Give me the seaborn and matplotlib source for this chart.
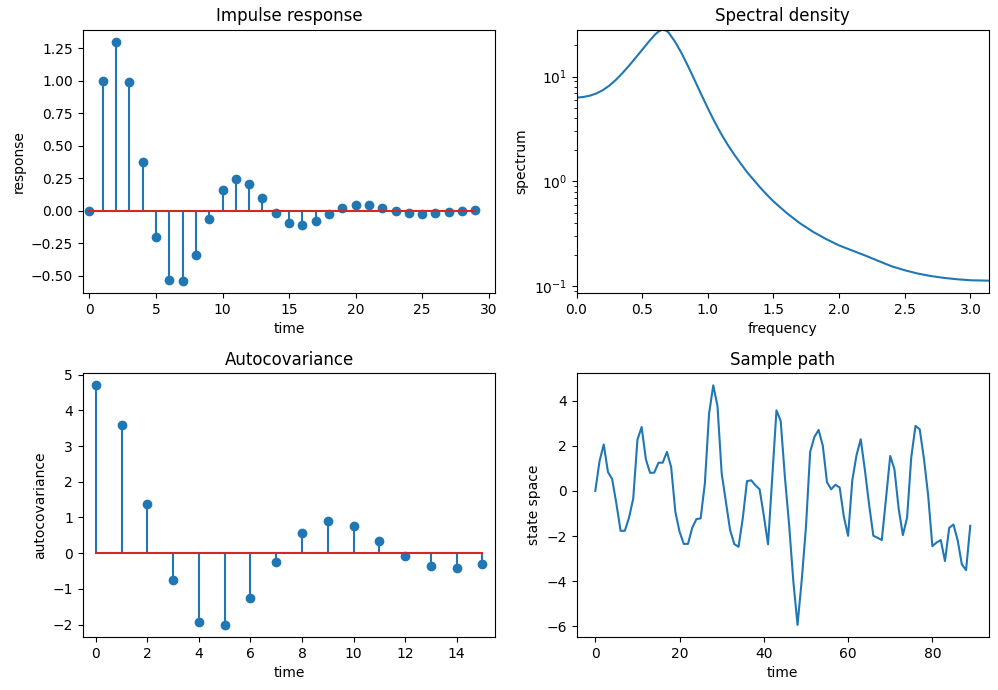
import matplotlib
matplotlib.use('Agg')
import matplotlib.pyplot as plt
import numpy as np
import seaborn as sns

# impulse response
impulse = [0.0, 1.0, 1.30, 0.99, 0.376, -0.204, -0.528, -0.541, -0.343, -0.064,
           0.16, 0.245, 0.206, 0.098, -0.018, -0.095, -0.111, -0.08, -0.023, 0.023,
           0.046, 0.046, 0.023, -0.005, -0.018, -0.023, -0.018, -0.008, -0.003, 0.008]

# spectral density
freq = [0.0, 0.05, 0.1, 0.15, 0.2, 0.25, 0.3, 0.35, 0.4, 0.45, 0.5, 0.55, 0.6, 0.62,
        0.65, 0.68, 0.7, 0.75, 0.8, 0.85, 0.9, 0.95, 1.0, 1.05, 1.1, 1.15, 1.2, 1.25,
        1.3, 1.35, 1.4, 1.45, 1.5, 1.6, 1.7, 1.8, 1.9, 2.0, 2.1, 2.2, 2.3, 2.4,
        2.5, 2.6, 2.7, 2.8, 2.9, 3.0, 3.1416]
spectrum = [6.3, 6.38, 6.56, 6.89, 7.41, 8.2, 9.31, 10.8, 12.7, 15.1, 18.0, 21.5, 25.3, 26.6,
            28.0, 27.5, 26.4, 21.5, 16.7, 12.5, 9.2, 6.75, 4.98, 3.73, 2.86, 2.25, 1.81, 1.48,
            1.22, 1.03, 0.87, 0.745, 0.644, 0.50, 0.40, 0.331, 0.282, 0.245, 0.219, 0.196, 0.174, 0.155,
            0.142, 0.132, 0.125, 0.12, 0.1165, 0.114, 0.113]

# autocovariance
autocov = [4.70, 3.58, 1.37, -0.745, -1.93, -2.01, -1.26, -0.25, 0.56, 0.90,
           0.75, 0.335, -0.075, -0.36, -0.43, -0.31]

# sample path
path = [0.0, 1.31, 2.06, 0.84, 0.52, -0.56, -1.77, -1.77, -1.19, -0.34,
        2.27, 2.83, 1.40, 0.80, 0.81, 1.25, 1.25, 1.73, 1.06, -0.93,
        -1.81, -2.35, -2.35, -1.64, -1.25, -1.22, 0.32, 3.42, 4.68, 3.76,
        0.77, -0.49, -1.74, -2.36, -2.48, -1.22, 0.43, 0.47, 0.25, 0.07,
        -1.1, -2.37, 0.6, 3.57, 3.10, 0.62, -1.50, -4.0, -5.94, -3.95,
        -1.6, 1.73, 2.39, 2.70, 2.0, 0.38, 0.07, 0.27, 0.15, -1.15,
        -1.99, 0.47, 1.58, 2.29, 0.91, -0.63, -1.99, -2.08, -2.18, -0.34,
        1.55, 0.96, -0.78, -1.96, -1.19, 1.50, 2.88, 2.73, 1.43, -0.19,
        -2.45, -2.29, -2.18, -3.11, -1.64, -1.49, -2.18, -3.26, -3.51, -1.55]

fig, axes = plt.subplots(2, 2, figsize=(9.98, 6.9), dpi=100)
plt.subplots_adjust(left=0.083, right=0.991, top=0.957, bottom=0.077,
                    wspace=0.197, hspace=0.304)

# impulse response
ax = axes[0, 0]
ax.stem(range(len(impulse)), impulse)
ax.set_xlim(-0.5, len(impulse) + 0.5)
ax.set_title("Impulse response")
ax.set_xlabel("time")
ax.set_ylabel("response")

# spectral density
ax = axes[0, 1]
sns.lineplot(x=freq, y=spectrum, ax=ax)
ax.set_yscale("log")
ax.set_xlim(0, np.pi)
ax.set_ylim(top=max(spectrum))
ax.set_title("Spectral density")
ax.set_xlabel("frequency")
ax.set_ylabel("spectrum")

# autocovariance
ax = axes[1, 0]
ax.stem(range(len(autocov)), autocov)
ax.set_xlim(-0.5, len(autocov) - 0.5)
ax.set_title("Autocovariance")
ax.set_xlabel("time")
ax.set_ylabel("autocovariance")

# sample path
ax = axes[1, 1]
sns.lineplot(x=range(len(path)), y=path, ax=ax)
ax.set_title("Sample path")
ax.set_xlabel("time")
ax.set_ylabel("state space")

fig.savefig("out.png")
